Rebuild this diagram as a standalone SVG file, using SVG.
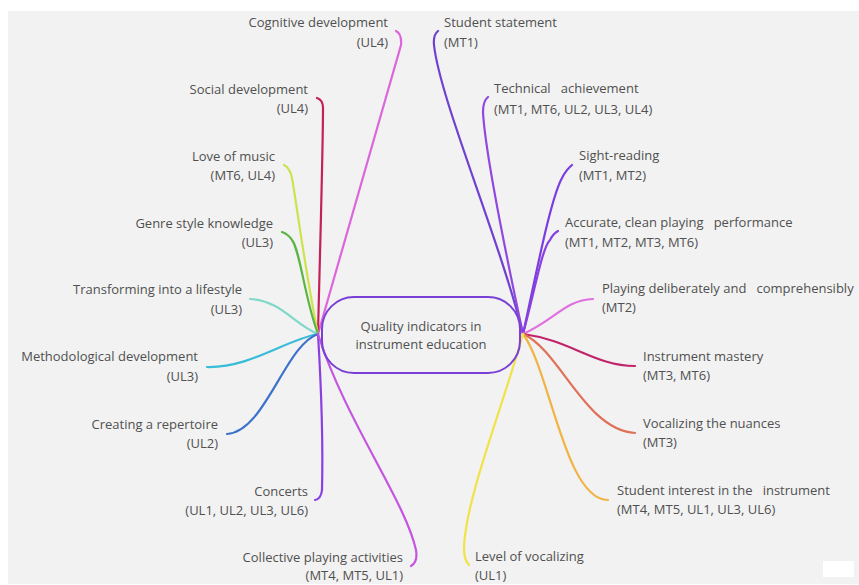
<svg xmlns="http://www.w3.org/2000/svg" width="859" height="585" viewBox="0 0 859 585">
<style>
text{font-family:"Open Sans","Noto Sans","Liberation Sans",sans-serif;font-size:13px;fill:#505050}
.r{text-anchor:end}
.c{text-anchor:middle;font-size:13px}
.cn{fill:none;stroke-width:2.2;stroke-linecap:round}
</style>
<rect x="0" y="0" width="859" height="585" fill="#ffffff"/>
<rect x="8" y="11" width="851" height="573" fill="#f2f2f2"/>
<rect x="823" y="561" width="31" height="16" fill="#ffffff"/>
<g id="connectors">
<path class="cn" stroke="#dd66dd" d="M318,334 L401,45 Q402,34 396,31"/>
<path class="cn" stroke="#c4205a" d="M318,334 C320,250 323,150 323,108 Q323,100 317,98"/>
<path class="cn" stroke="#cde34e" d="M318,334 C305,270 296,200 292,178 Q290,168 284,165"/>
<path class="cn" stroke="#5cb444" d="M318,334 C305,300 300,250 292,240 Q288,234 282,232"/>
<path class="cn" stroke="#80d8c8" d="M318,334 C295,325 280,300 250,299"/>
<path class="cn" stroke="#38bcd8" d="M318,334 C285,340 250,368 207,367"/>
<path class="cn" stroke="#3c72cc" d="M318,334 C285,345 265,432 227,434"/>
<path class="cn" stroke="#8a40e0" d="M318,334 C322,400 323,450 322,490 Q321,499 315,500"/>
<path class="cn" stroke="#c455e0" d="M318,334 C345,420 405,500 416,550 Q418,562 411,566"/>
<path class="cn" stroke="#7040d0" d="M523,334 C500,240 440,100 434,45 Q433,35 438,31"/>
<path class="cn" stroke="#9048e0" d="M523,334 C505,250 485,150 483,112 Q483,101 488,97"/>
<path class="cn" stroke="#7a3ee0" d="M523,334 C535,280 550,200 562,178 Q566,170 572,165"/>
<path class="cn" stroke="#8a40e0" d="M523,334 C535,290 542,248 550,240 Q553,234 558,231"/>
<path class="cn" stroke="#e070e0" d="M523,334 C555,320 565,300 593,299"/>
<path class="cn" stroke="#c0246a" d="M523,334 C570,340 595,366 635,366"/>
<path class="cn" stroke="#e07058" d="M523,334 C560,350 585,430 635,433"/>
<path class="cn" stroke="#f0b444" d="M523,334 C550,370 565,500 608,500"/>
<path class="cn" stroke="#f2e24a" d="M523,334 C505,400 465,500 464,548 Q464,560 469,565"/>
</g>
<g id="center">
<rect x="322" y="297" width="198" height="76" rx="32" fill="none" stroke="#7a40d6" stroke-width="2"/>
<text class="c" x="421" y="331">Quality indicators in</text>
<text class="c" x="421" y="349">instrument education</text>
</g>
<g id="n-cognitive"><text class="r" x="388" y="27">Cognitive development</text><text class="r" x="388" y="47">(UL4)</text></g>
<g id="n-social"><text class="r" x="308" y="94">Social development</text><text class="r" x="308" y="113">(UL4)</text></g>
<g id="n-love"><text class="r" x="275" y="161">Love of music</text><text class="r" x="275" y="180">(MT6, UL4)</text></g>
<g id="n-genre"><text class="r" x="273" y="228">Genre style knowledge</text><text class="r" x="273" y="247">(UL3)</text></g>
<g id="n-lifestyle"><text class="r" x="242" y="294">Transforming into a lifestyle</text><text class="r" x="242" y="314">(UL3)</text></g>
<g id="n-method"><text class="r" x="198" y="361">Methodological development</text><text class="r" x="198" y="381">(UL3)</text></g>
<g id="n-repertoire"><text class="r" x="218" y="429">Creating a repertoire</text><text class="r" x="218" y="448">(UL2)</text></g>
<g id="n-concerts"><text class="r" x="308" y="496">Concerts</text><text class="r" x="308" y="515">(UL1, UL2, UL3, UL6)</text></g>
<g id="n-collective"><text class="r" x="403" y="562">Collective playing activities</text><text class="r" x="403" y="580">(MT4, MT5, UL1)</text></g>
<g id="n-statement"><text x="444" y="27">Student statement</text><text x="444" y="47">(MT1)</text></g>
<g id="n-technical"><text x="494" y="93" xml:space="preserve">Technical   achievement</text><text x="494" y="114">(MT1, MT6, UL2, UL3, UL4)</text></g>
<g id="n-sight"><text x="579" y="160">Sight-reading</text><text x="579" y="180">(MT1, MT2)</text></g>
<g id="n-accurate"><text x="565" y="227" xml:space="preserve">Accurate, clean playing   performance</text><text x="565" y="247">(MT1, MT2, MT3, MT6)</text></g>
<g id="n-deliberate"><text x="602" y="293" xml:space="preserve">Playing deliberately and   comprehensibly</text><text x="602" y="312">(MT2)</text></g>
<g id="n-mastery"><text x="643" y="361">Instrument mastery</text><text x="643" y="380">(MT3, MT6)</text></g>
<g id="n-nuances"><text x="643" y="428">Vocalizing the nuances</text><text x="643" y="447">(MT3)</text></g>
<g id="n-interest"><text x="617" y="495" xml:space="preserve">Student interest in the   instrument</text><text x="617" y="514">(MT4, MT5, UL1, UL3, UL6)</text></g>
<g id="n-level"><text x="475" y="561">Level of vocalizing</text><text x="475" y="580">(UL1)</text></g>
</svg>
